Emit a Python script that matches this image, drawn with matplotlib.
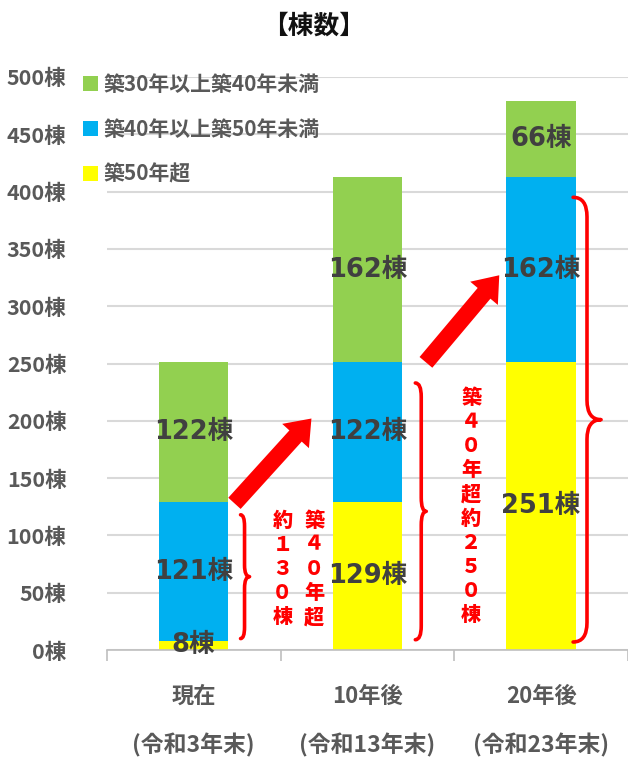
import matplotlib
matplotlib.use('Agg')
import matplotlib.pyplot as plt
from matplotlib.path import Path
from matplotlib.patches import PathPatch
import numpy as np

plt.rcParams['font.family'] = ['Noto Sans CJK JP', 'DejaVu Sans']

# 棟数 by period and building age band
periods = ['現在', '10年後', '20年後']
period_notes = ['(令和3年末)', '(令和13年末)', '(令和23年末)']
series_names = ['築50年超', '築40年以上築50年未満', '築30年以上築40年未満']
over50 = [8, 129, 251]
age40_50 = [121, 122, 162]
age30_40 = [122, 162, 66]
series_colors = ['#ffff00', '#00b0f0', '#92d050']

y_ticks = list(range(0, 501, 50))

# red annotations: braces (x left / line / tip, y bottom / top) and vertical notes
braces = [
    (0.270, 0.293, 0.322, 10, 118),
    (1.276, 1.310, 1.339, 9, 233),
    (2.184, 2.264, 2.345, 7, 395),
]
notes = [
    (0.511, 113, '約１３０棟'),
    (0.695, 113, '築４０年超'),
    (1.598, 220, '築４０年超約２５０棟'),
]
arrows = [
    ((0.235, 128), (0.678, 202)),
    ((1.337, 251), (1.759, 327)),
]

grey = '#595959'
label_grey = '#404040'
red = '#ff0000'


def draw_brace(ax, xl, xm, xt, yb, yt, r):
    ym = (yb + yt) / 2
    verts = [(xl, yt), (xm, yt), (xm, yt - r),
             (xm, ym + r),
             (xm, ym), (xt, ym),
             (xm, ym), (xm, ym - r),
             (xm, yb + r),
             (xm, yb), (xl, yb)]
    codes = [Path.MOVETO, Path.CURVE3, Path.CURVE3,
             Path.LINETO,
             Path.CURVE3, Path.CURVE3,
             Path.CURVE3, Path.CURVE3,
             Path.LINETO,
             Path.CURVE3, Path.CURVE3]
    ax.add_patch(PathPatch(Path(verts, codes), facecolor='none',
                           edgecolor=red, lw=2.6, capstyle='round',
                           joinstyle='round', zorder=4))


fig = plt.figure(figsize=(6.28, 7.60), dpi=100)
ax = fig.add_axes([0.170, 0.1447, 0.830, 0.754])

x = np.arange(len(periods))
width = 0.40
bottom = np.zeros(len(periods))
handles = []
for vals, name, color in zip([over50, age40_50, age30_40], series_names,
                             series_colors):
    bars = ax.bar(x, vals, width, bottom=bottom, color=color, label=name,
                  zorder=2)
    handles.append(bars)
    for xi, b, v in zip(x, bottom, vals):
        ax.text(xi, b + v / 2, f'{v}棟', ha='center', va='center',
                fontsize=18.5, fontweight='bold', color=label_grey, zorder=5,
                family=['DejaVu Sans', 'Noto Sans CJK JP'])
    bottom = bottom + np.array(vals)

ax.set_xlim(-0.5, 2.5)
ax.set_ylim(0, 500)
ax.set_yticks(y_ticks)
ax.set_yticklabels([f'{t}棟' for t in y_ticks], fontsize=15.5,
                   fontweight='bold', color=grey)
ax.tick_params(axis='y', length=0, pad=29)
ax.grid(axis='y', color='#d9d9d9', lw=1.5, zorder=0)
ax.set_axisbelow(True)

ax.set_xticks(x)
ax.set_xticklabels(periods, fontsize=16, fontweight='bold', color=grey)
ax.tick_params(axis='x', length=0, pad=25)
ax.set_xticks([-0.5, 0.5, 1.5, 2.5], minor=True)
ax.tick_params(axis='x', which='minor', length=8, color='#bfbfbf', width=1.2)
for xi, note in zip(x, period_notes):
    ax.text(xi, -0.166, note, transform=ax.get_xaxis_transform(),
            ha='center', va='center', fontsize=16.5, fontweight='bold',
            color=grey)

for side in ['left', 'right', 'top']:
    ax.spines[side].set_visible(False)
ax.spines['bottom'].set_color('#bfbfbf')
ax.spines['bottom'].set_linewidth(1.2)

ax.legend(handles=handles[::-1], labels=series_names[::-1],
          loc='upper left', bbox_to_anchor=(83 / 628, 1 - 74 / 760),
          bbox_transform=fig.transFigure, frameon=False,
          handlelength=0.7, handleheight=0.7, handletextpad=0.3,
          labelspacing=1.15, borderaxespad=0, borderpad=0,
          prop={'size': 15, 'weight': 'bold'}, labelcolor=grey)

fig.text(0.5, 1 - 26 / 760, '【棟数】', ha='center', va='center',
         fontsize=18.5, fontweight='bold', color='#111111')

for (xl, xm, xt, yb, yt), r in zip(braces, [10, 12, 17]):
    draw_brace(ax, xl, xm, xt, yb, yt, r)

for xn, yn, txt in notes:
    for i, ch in enumerate(txt):
        ax.annotate(ch, xy=(xn, yn), xytext=(0, -17.4 * i),
                    textcoords='offset points', ha='center', va='center',
                    fontsize=14.5, fontweight='heavy', color=red, zorder=5)

for start, end in arrows:
    ax.annotate('', xy=end, xytext=start,
                arrowprops=dict(arrowstyle='simple,head_width=26,'
                                'head_length=17,tail_width=12',
                                mutation_scale=1, color=red, lw=0,
                                shrinkA=0, shrinkB=0),
                zorder=6)

fig.savefig('out.png', dpi=100)
